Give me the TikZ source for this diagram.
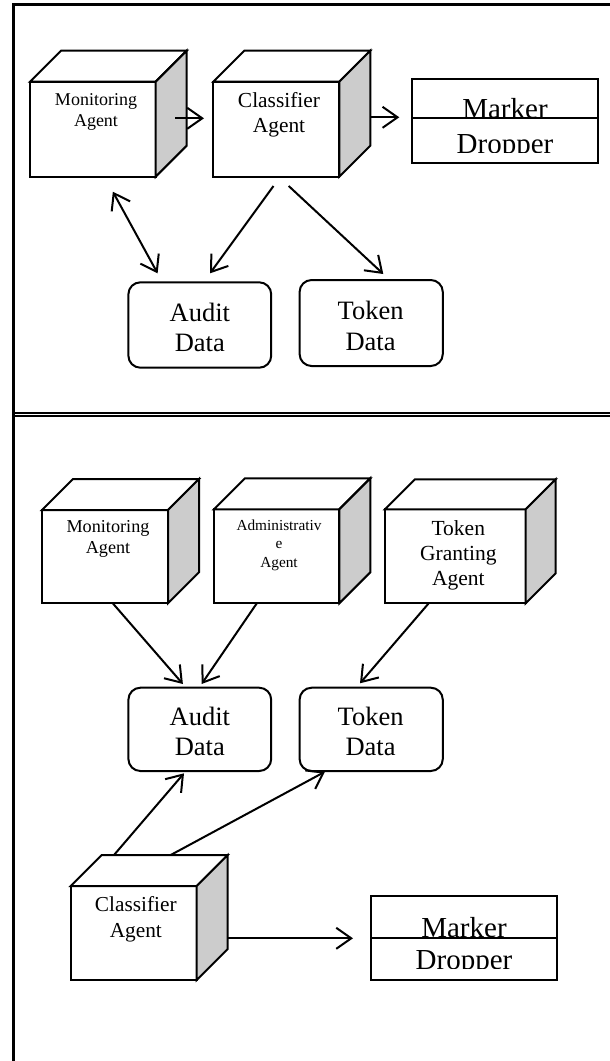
\documentclass[tikz,border=0pt]{standalone}
\usepackage{fontspec}
\setmainfont{Liberation Serif}
\usetikzlibrary{arrows.meta,calc}
\newcommand\cubefaces[2]{%
  \draw[shapeline, fill=white] (#1.north west) -- ++(#2,-#2) -- ($(#1.north east)+(#2,-#2)$) -- (#1.north east) -- cycle;
  \draw[shapeline, fill=gray!40] (#1.north east) -- ++(#2,-#2) -- ($(#1.south east)+(#2,-#2)$) -- (#1.south east) -- cycle;}
\newcommand\fsz[2]{\fontsize{#1}{#2}\selectfont}
\begin{document}
\begin{tikzpicture}[x=1pt,y=-1pt,
  shapeline/.style={line width=2pt, line join=miter},
  cubefront/.style={draw, shapeline, fill=white, rectangle, inner sep=0pt, outer sep=0pt, anchor=north west},
  rbox/.style={draw, shapeline, fill=white, rectangle, rounded corners=12pt, inner sep=0pt, outer sep=0pt, anchor=north west},
  mbox/.style={draw, shapeline, fill=white, rectangle, inner sep=0pt, outer sep=0pt, anchor=north west},
  lbl/.style={inner sep=0pt, outer sep=0pt, align=center, anchor=north},
  mlbl/.style={inner sep=0pt, outer sep=0pt, anchor=base, font=\fsz{29}{33}},
  arr/.style={line width=2pt, -{Straight Barb[length=15pt,width=21pt]}},
  darr/.style={line width=2pt, {Straight Barb[length=15pt,width=21pt]}-{Straight Barb[length=15pt,width=21pt]}},
  frameline/.style={line width=2.6pt}]

\useasboundingbox (0,0) rectangle (610,1061);
\clip (0,0) rectangle (610,1061);

% frames
\draw[frameline] (640,4.7) -- (13.3,4.7) -- (13.3,1080);
\draw[line width=2.2pt] (13.3,412.6) -- (640,412.6);
\draw[line width=1.6pt] (13.3,416.2) -- (640,416.2);

% ---------- top panel ----------
\node[cubefront, minimum width=125.7pt, minimum height=95pt] (mon1) at (30,81.7) {};
\cubefaces{mon1}{31}
\node[lbl, font=\fsz{18}{21}] (mon1t) at (96,93.7) {Monitoring\\Agent};

\node[cubefront, minimum width=126pt, minimum height=95pt] (cls1) at (213.3,81.7) {};
\cubefaces{cls1}{31}
\node[lbl, font=\fsz{21.4}{25}] (cls1t) at (279,92.9) {Classifier\\Agent};

\node[mbox, minimum width=186pt, minimum height=84.3pt] (mk1) at (411.7,79) {};
\begin{scope}
  \clip (mk1.north west) rectangle ($(mk1.north east)+(0,38.7)$);
  \node[mlbl] (mk1a) at (505,118.5) {Marker};
\end{scope}
\begin{scope}
  \clip ($(mk1.north west)+(0,38.7)$) rectangle ($(mk1.north east)+(0,73)$);
  \node[mlbl] (mk1b) at (505,153) {Dropper};
\end{scope}
\draw[shapeline] ($(mk1.north west)+(0,38.7)$) -- ($(mk1.north east)+(0,38.7)$);

\node[rbox, minimum width=142.8pt, minimum height=85.4pt] (aud1) at (128.4,282.3) {};
\node[lbl, font=\fsz{26.5}{30}] (aud1t) at (199.8,303.6) {Audit\\Data};
\node[rbox, minimum width=143.2pt, minimum height=86pt] (tok1) at (299.6,280) {};
\node[lbl, font=\fsz{26.5}{31.4}] (tok1t) at (370.6,301.2) {Token\\Data};

\draw[arr] ($(mon1.north east)+(19.3,36.6)$) -- ($(cls1.north west)+(-9.3,36.6)$);
\draw[arr] ($(cls1.north east)+(30.7,35.6)$) -- ($(mk1.north west)+(-12.4,38.3)$);
\draw[darr] ($(mon1.south)+(20,15)$) -- ($(aud1.north west)+(29.2,-9)$);
\draw[arr] ($(cls1.south)+(-2.8,9.3)$) -- ($(aud1.north west)+(81.6,-9)$);
\draw[arr] ($(cls1.south)+(12.4,9.3)$) -- ($(tok1.north west)+(83.7,-6)$);

% ---------- bottom panel ----------
\node[cubefront, minimum width=126pt, minimum height=93.3pt] (mon2) at (42,510) {};
\cubefaces{mon2}{31}
\node[lbl, font=\fsz{18.2}{21.6}] (mon2t) at (108,520.3) {Monitoring\\Agent};

\node[cubefront, minimum width=125.3pt, minimum height=94pt] (adm2) at (214,509.3) {};
\cubefaces{adm2}{31}
\node[lbl, font=\fsz{15.3}{18.6}] (adm2t) at (279,519.5) {Administrativ\\e\\Agent};

\node[cubefront, minimum width=140.7pt, minimum height=94pt] (tok2) at (385,509.3) {};
\cubefaces{tok2}{30}
\node[lbl, font=\fsz{21.5}{25}] (tok2t) at (458.3,520.3) {Token\\Granting\\Agent};

\node[rbox, minimum width=142.8pt, minimum height=83.3pt] (aud2) at (128.4,687.7) {};
\node[lbl, font=\fsz{26.5}{30}] (aud2t) at (199.8,706.9) {Audit\\Data};
\node[rbox, minimum width=143.2pt, minimum height=83.3pt] (tokd2) at (299.6,687.7) {};
\node[lbl, font=\fsz{26.5}{30}] (tokd2t) at (370.6,706.9) {Token\\Data};

\node[cubefront, minimum width=126pt, minimum height=94pt] (cls2) at (70.7,886) {};
\cubefaces{cls2}{31}
\node[lbl, font=\fsz{21.3}{26}] (cls2t) at (135.8,896.2) {Classifier\\Agent};

\node[mbox, minimum width=185.7pt, minimum height=84pt] (mk2) at (371,896) {};
\begin{scope}
  \clip (mk2.north west) rectangle ($(mk2.north east)+(0,42.3)$);
  \node[mlbl] (mk2a) at (464,937) {Marker};
\end{scope}
\begin{scope}
  \clip ($(mk2.north west)+(0,42.3)$) rectangle ($(mk2.north east)+(0,72.3)$);
  \node[mlbl] (mk2b) at (464,969.5) {Dropper};
\end{scope}
\draw[shapeline] ($(mk2.north west)+(0,42.3)$) -- ($(mk2.north east)+(0,42.3)$);

\draw[arr] ($(mon2.south)+(7.8,0)$) -- ($(aud2.north west)+(54.5,-3.7)$);
\draw[arr] ($(adm2.south)+(-19.85,0)$) -- ($(aud2.north west)+(73.2,-3.7)$);
\draw[arr] ($(tok2.south)+(-26.65,0)$) -- ($(tokd2.north west)+(60.4,-4.4)$);
\draw[arr] ($(cls2.north west)+(43.3,-31)$) -- ($(aud2.south west)+(55.6,2.3)$);
\draw[arr] ($(cls2.north west)+(100,-31)$) -- ($(tokd2.south west)+(25.4,0.7)$);
\draw[arr] ($(cls2.north east)+(31.6,52.3)$) -- ($(mk2.north west)+(-18,42.3)$);
\end{tikzpicture}
\end{document}
